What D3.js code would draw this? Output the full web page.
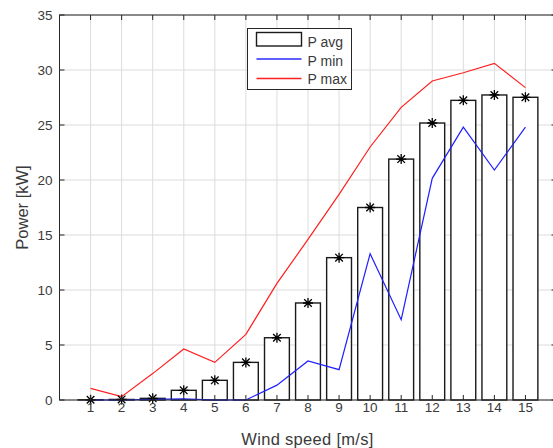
<!DOCTYPE html>
<html>
<head>
<meta charset="utf-8">
<script src="https://cdn.jsdelivr.net/npm/d3@7"></script>
<style>
  html, body { margin: 0; padding: 0; background: #fff; }
  svg { display: block; }
  text { font-family: "Liberation Sans", Arial, Helvetica, sans-serif; fill: #3a3a3a; }
</style>
</head>
<body>
<svg id="chart" width="553" height="448"></svg>
<script>
const windSpeed = [1,2,3,4,5,6,7,8,9,10,11,12,13,14,15];
const pAvg = [0.02,0.05,0.15,0.88,1.79,3.42,5.66,8.82,12.94,17.5,21.9,25.18,27.24,27.73,27.52];
const pMin = [0,0,0.05,0.1,0,0,1.35,3.55,2.76,13.3,7.3,20.15,24.8,20.9,24.8];
const pMax = [1.06,0.3,2.4,4.64,3.42,5.97,10.6,14.6,18.7,23.0,26.6,29.0,29.75,30.6,28.4];
const yTicks = [0,5,10,15,20,25,30,35];
const legendLabels = ["P avg","P min","P max"];

const svg = d3.select("#chart");
const x = d3.scaleLinear().domain([0,16]).range([59.5,556.5]);
const y = d3.scaleLinear().domain([0,35]).range([400,15]);
const axisColor = "#262626";

// grid
const g = svg.append("g");
g.selectAll(".vg").data(windSpeed).enter().append("line")
  .attr("x1", d => x(d)).attr("x2", d => x(d))
  .attr("y1", y(0)).attr("y2", y(35))
  .attr("stroke", "#dcdcdc").attr("stroke-width", 1);
g.selectAll(".hg").data(yTicks).enter().append("line")
  .attr("x1", x(0)).attr("x2", x(16))
  .attr("y1", d => y(d)).attr("y2", d => y(d))
  .attr("stroke", "#dcdcdc").attr("stroke-width", 1);

// bars
const bw = (x(1) - x(0)) * 0.8;
svg.append("g").selectAll("rect").data(windSpeed).enter().append("rect")
  .attr("x", (d) => x(d) - bw/2)
  .attr("y", (d,i) => y(pAvg[i]))
  .attr("width", bw)
  .attr("height", (d,i) => y(0) - y(pAvg[i]))
  .attr("fill", "#fff").attr("stroke", "#1a1a1a").attr("stroke-width", 1.4);

// lines
const line = arr => d3.line().x((d,i) => x(windSpeed[i])).y(d => y(d))(arr);
svg.append("path").attr("d", line(pMin)).attr("fill","none").attr("stroke","#1f1fff").attr("stroke-width",1.2);
svg.append("path").attr("d", line(pMax)).attr("fill","none").attr("stroke","#ff1f1f").attr("stroke-width",1.2);

// asterisk markers
const s = 5, sd = 3.8;
const mk = svg.append("g").attr("stroke","#000").attr("stroke-width",1.3);
windSpeed.forEach((w,i) => {
  const cx = x(w), cy = y(pAvg[i]);
  mk.append("path").attr("d",
    `M${cx-s},${cy}H${cx+s}M${cx},${cy-s}V${cy+s}` +
    `M${cx-sd},${cy-sd}L${cx+sd},${cy+sd}M${cx-sd},${cy+sd}L${cx+sd},${cy-sd}`);
});

// axes box
svg.append("rect").attr("x", x(0)).attr("y", y(35))
  .attr("width", x(16)-x(0)).attr("height", y(0)-y(35))
  .attr("fill","none").attr("stroke",axisColor).attr("stroke-width",1);

// ticks
const tl = 5;
const tk = svg.append("g").attr("stroke", axisColor).attr("stroke-width", 1);
windSpeed.forEach(w => {
  tk.append("line").attr("x1",x(w)).attr("x2",x(w)).attr("y1",y(0)).attr("y2",y(0)-tl);
  tk.append("line").attr("x1",x(w)).attr("x2",x(w)).attr("y1",y(35)).attr("y2",y(35)+tl);
});
yTicks.forEach(t => {
  tk.append("line").attr("x1",x(0)).attr("x2",x(0)+tl).attr("y1",y(t)).attr("y2",y(t));
  tk.append("line").attr("x1",x(16)).attr("x2",x(16)-tl).attr("y1",y(t)).attr("y2",y(t));
});

// tick labels
svg.append("g").selectAll("text").data(windSpeed).enter().append("text")
  .attr("x", d => x(d)).attr("y", 411.5).attr("text-anchor","middle")
  .attr("font-size", 13.5).text(d => d);
svg.append("g").selectAll("text").data(yTicks).enter().append("text")
  .attr("x", 52.5).attr("y", d => y(d) + 4.7).attr("text-anchor","end")
  .attr("font-size", 13.5).text(d => d);

// axis labels
svg.append("text").attr("x", (x(0)+x(16))/2 - 0.5).attr("y", 445)
  .attr("text-anchor","middle").attr("font-size", 16.5).attr("letter-spacing", 0.3).text("Wind speed [m/s]");
svg.append("text").attr("transform", `translate(28,${(y(0)+y(35))/2}) rotate(-90)`)
  .attr("text-anchor","middle").attr("font-size", 16.5).text("Power [kW]");

// legend
const lg = svg.append("g");
lg.append("rect").attr("x",247.5).attr("y",28.5).attr("width",104).attr("height",61)
  .attr("fill","#fff").attr("stroke",axisColor).attr("stroke-width",1);
lg.append("rect").attr("x",256.5).attr("y",32.5).attr("width",45).attr("height",13.5)
  .attr("fill","#fff").attr("stroke","#1a1a1a").attr("stroke-width",1.4);
lg.append("line").attr("x1",256.5).attr("x2",301.5).attr("y1",59).attr("y2",59)
  .attr("stroke","#2a2aff").attr("stroke-width",1.3);
lg.append("line").attr("x1",256.5).attr("x2",301.5).attr("y1",78.5).attr("y2",78.5)
  .attr("stroke","#ff1f1f").attr("stroke-width",1.3);
const ly = [46.5, 65.5, 83.5];
legendLabels.forEach((t,i) => {
  lg.append("text").attr("x",307.5).attr("y",ly[i]).attr("font-size",14).text(t);
});
</script>
</body>
</html>
